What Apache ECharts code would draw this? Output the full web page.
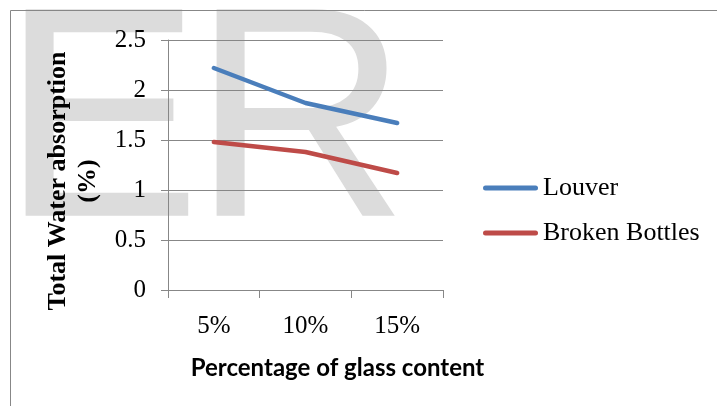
<!DOCTYPE html>
<html>
<head>
<meta charset="utf-8">
<script src="https://cdn.jsdelivr.net/npm/echarts@6/dist/echarts.min.js"></script>
<style>
  html, body { margin: 0; padding: 0; background: #ffffff; }
  #chart { width: 717px; height: 406px; }
</style>
</head>
<body>
<div id="chart"></div>
<script>
// Glass content levels and total water absorption (%) for each aggregate type
const categories = ['5%', '10%', '15%'];
const louver = [2.22, 1.87, 1.67];
const brokenBottles = [1.48, 1.38, 1.17];
const seriesNames = ['Louver', 'Broken Bottles'];
const yTitle = 'Total Water absorption\n(%)';
const xTitle = 'Percentage of glass content';
const watermarkLetters = ['E', 'R'];

const serif = '"Liberation Serif", "Times New Roman", serif';
const axisGray = '#878787';
// rounded bar used as the legend key
const legendKey = 'path://M2.5,0 L52.5,0 A2.5,2.5 0 0 1 52.5,5 L2.5,5 A2.5,2.5 0 0 1 2.5,0 Z';

// large grey background letters
function watermarkLetter(text, x) {
  return {
    type: 'text',
    z: -10,
    silent: true,
    x: x,
    y: 133,
    style: {
      text: text,
      font: '300px "Liberation Sans", Arial, sans-serif',
      fill: '#dcdcdc',
      verticalAlign: 'middle',
      align: 'left'
    }
  };
}

const chart = echarts.init(document.getElementById('chart'), null, { renderer: 'canvas' });

chart.setOption({
  backgroundColor: '#ffffff',
  animation: false,
  graphic: [
    watermarkLetter(watermarkLetters[0], 1),
    watermarkLetter(watermarkLetters[1], 192),
    {
      type: 'rect',
      z: -5,
      silent: true,
      shape: { x: 10.5, y: 10.5, width: 900, height: 900 },
      style: { fill: 'none', stroke: axisGray, lineWidth: 1 }
    }
  ],
  grid: { left: 168, top: 40, width: 275, height: 250, containLabel: false },
  legend: {
    orient: 'vertical',
    left: 483,
    top: 175,
    padding: 0,
    icon: legendKey,
    itemWidth: 55,
    itemHeight: 5,
    itemGap: 19,
    textStyle: { fontFamily: serif, fontSize: 26, color: '#000', lineHeight: 26 },
    data: seriesNames
  },
  xAxis: {
    type: 'category',
    data: categories,
    boundaryGap: true,
    name: xTitle,
    nameLocation: 'middle',
    nameGap: 66,
    nameTextStyle: {
      fontFamily: 'Lato, "Liberation Sans", sans-serif',
      fontWeight: 'bold',
      fontSize: 24,
      color: '#000',
      padding: [0, 0, 0, 64]
    },
    axisLine: { lineStyle: { color: axisGray, width: 1 } },
    axisTick: { show: true, length: 8, alignWithLabel: false, lineStyle: { color: axisGray } },
    axisLabel: { fontFamily: serif, fontSize: 25, color: '#000', margin: 24 },
    splitLine: { show: false }
  },
  yAxis: {
    type: 'value',
    min: 0,
    max: 2.5,
    interval: 0.5,
    name: yTitle,
    nameLocation: 'middle',
    nameRotate: 90,
    nameGap: 65,
    nameTextStyle: {
      fontFamily: serif,
      fontWeight: 'bold',
      fontSize: 26,
      lineHeight: 30,
      color: '#000',
      align: 'center',
      padding: [0, 32, 0, 0]
    },
    axisLine: { show: true, lineStyle: { color: axisGray, width: 1 } },
    axisTick: { show: true, length: 7, lineStyle: { color: axisGray } },
    axisLabel: { fontFamily: serif, fontSize: 25, color: '#000', margin: 22 },
    splitLine: { show: true, lineStyle: { color: axisGray, width: 1 } }
  },
  series: [
    {
      name: seriesNames[0],
      type: 'line',
      data: louver,
      symbol: 'none',
      color: '#4a7ebb',
      lineStyle: { width: 4.5, color: '#4a7ebb', cap: 'round', join: 'round' },
      z: 3
    },
    {
      name: seriesNames[1],
      type: 'line',
      data: brokenBottles,
      symbol: 'none',
      color: '#be4b48',
      lineStyle: { width: 4.5, color: '#be4b48', cap: 'round', join: 'round' },
      z: 3
    }
  ]
});
</script>
</body>
</html>
